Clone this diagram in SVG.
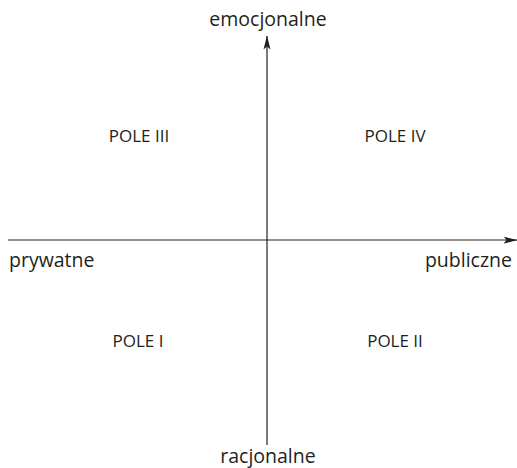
<svg xmlns="http://www.w3.org/2000/svg" width="517" height="468" viewBox="0 0 517 468">
  <style>
    text { font-family: "Open Sans", "Noto Sans", sans-serif; fill: #231f20; }
    .axis-label { font-size: 19.5px; }
    .field { font-size: 17px; text-anchor: middle; }
    .axis { stroke: #231f20; stroke-width: 1.2; fill: none; }
  </style>
  <defs>
    <marker id="arrow" viewBox="0 0 14 8" refX="13.5" refY="4" markerWidth="14" markerHeight="8" markerUnits="userSpaceOnUse" orient="auto">
      <path d="M0,0.5 L14,4 L0,7.5 L3,4 Z" fill="#231f20"/>
    </marker>
  </defs>
  <rect width="517" height="468" fill="#ffffff"/>
  <g id="connectors">
    <line class="axis" x1="8" y1="240" x2="517" y2="240" marker-end="url(#arrow)"/>
    <line class="axis" x1="267" y1="445" x2="267" y2="36" marker-end="url(#arrow)"/>
  </g>
  <g id="label-emocjonalne"><text class="axis-label" x="268" y="26" text-anchor="middle">emocjonalne</text></g>
  <g id="label-racjonalne"><text class="axis-label" x="268" y="463" text-anchor="middle">racjonalne</text></g>
  <g id="label-prywatne"><text class="axis-label" x="9" y="267">prywatne</text></g>
  <g id="label-publiczne"><text class="axis-label" x="512" y="267" text-anchor="end">publiczne</text></g>
  <g id="pole-iii"><text class="field" x="139" y="142">POLE III</text></g>
  <g id="pole-iv"><text class="field" x="395" y="142">POLE IV</text></g>
  <g id="pole-i"><text class="field" x="138" y="347">POLE I</text></g>
  <g id="pole-ii"><text class="field" x="395" y="347">POLE II</text></g>
</svg>
